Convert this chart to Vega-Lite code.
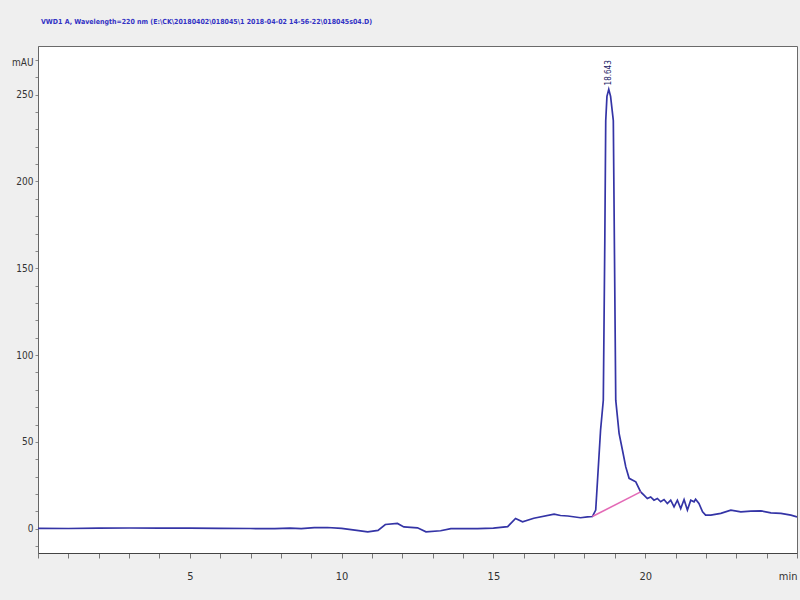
{
  "$schema": "https://vega.github.io/schema/vega-lite/v6.json",
  "autosize": {"type": "none"},
  "width": 759,
  "height": 507,
  "padding": {"left": 38, "top": 46, "right": 3, "bottom": 47},
  "background": "#efefef",
  "view": {"fill": "#ffffff", "stroke": "#6a6a6a", "strokeWidth": 1},
  "config": {
    "font": "DejaVu Sans Condensed, Liberation Sans Narrow, Liberation Sans, sans-serif",
    "axis": {"labelOverlap": false, "labelBound": false, "labelFlush": false}
  },
  "title": {
    "text": "VWD1 A, Wavelength=220 nm (E:\\CK\\20180402\\018045\\1 2018-04-02 14-56-22\\018045s04.D)",
    "anchor": "start",
    "frame": "group",
    "offset": 21,
    "dx": 3,
    "fontSize": 7,
    "fontWeight": "bold",
    "color": "#3232c4",
    "font": "DejaVu Sans Condensed, Liberation Sans Narrow, Liberation Sans, sans-serif"
  },
  "datasets": {
    "sig": [
      {"t": 0.0, "v": 0.2}, {"t": 1.0, "v": 0.1}, {"t": 2.0, "v": 0.3}, {"t": 3.0, "v": 0.4},
      {"t": 4.0, "v": 0.3}, {"t": 5.0, "v": 0.3}, {"t": 6.0, "v": 0.2}, {"t": 7.0, "v": 0.1},
      {"t": 7.8, "v": 0.0}, {"t": 8.3, "v": 0.3}, {"t": 8.67, "v": 0.0}, {"t": 9.1, "v": 0.6},
      {"t": 9.53, "v": 0.7}, {"t": 10.0, "v": 0.2}, {"t": 10.5, "v": -1.0}, {"t": 10.86, "v": -1.8},
      {"t": 11.2, "v": -1.0}, {"t": 11.44, "v": 2.4}, {"t": 11.84, "v": 3.0}, {"t": 12.05, "v": 1.0},
      {"t": 12.5, "v": 0.5}, {"t": 12.78, "v": -1.8}, {"t": 13.26, "v": -1.2}, {"t": 13.6, "v": 0.0},
      {"t": 14.48, "v": 0.0}, {"t": 15.0, "v": 0.3}, {"t": 15.47, "v": 1.2}, {"t": 15.73, "v": 5.9},
      {"t": 15.96, "v": 4.0}, {"t": 16.33, "v": 6.0}, {"t": 17.0, "v": 8.4}, {"t": 17.21, "v": 7.6},
      {"t": 17.45, "v": 7.3}, {"t": 17.87, "v": 6.3}, {"t": 18.1, "v": 6.8}, {"t": 18.26, "v": 7.0},
      {"t": 18.37, "v": 10.7}, {"t": 18.53, "v": 56.8}, {"t": 18.62, "v": 74.0}, {"t": 18.67, "v": 166.0},
      {"t": 18.7, "v": 235.0}, {"t": 18.74, "v": 249.0}, {"t": 18.8, "v": 253.0}, {"t": 18.86, "v": 249.0},
      {"t": 18.95, "v": 235.0}, {"t": 19.03, "v": 74.0}, {"t": 19.14, "v": 54.9}, {"t": 19.25, "v": 45.3},
      {"t": 19.36, "v": 35.6}, {"t": 19.47, "v": 29.0}, {"t": 19.69, "v": 27.0}, {"t": 19.85, "v": 21.2},
      {"t": 19.96, "v": 19.3}, {"t": 20.07, "v": 17.4}, {"t": 20.18, "v": 18.3}, {"t": 20.29, "v": 16.4},
      {"t": 20.4, "v": 17.4}, {"t": 20.51, "v": 15.5}, {"t": 20.62, "v": 16.8}, {"t": 20.73, "v": 14.5},
      {"t": 20.84, "v": 16.4}, {"t": 20.95, "v": 12.6}, {"t": 21.06, "v": 16.4}, {"t": 21.17, "v": 11.6},
      {"t": 21.28, "v": 16.8}, {"t": 21.39, "v": 10.7}, {"t": 21.5, "v": 16.4}, {"t": 21.61, "v": 15.5},
      {"t": 21.66, "v": 17.0}, {"t": 21.77, "v": 14.5}, {"t": 21.89, "v": 9.7}, {"t": 21.99, "v": 7.8},
      {"t": 22.16, "v": 7.8}, {"t": 22.49, "v": 8.8}, {"t": 22.82, "v": 10.7}, {"t": 23.15, "v": 9.7},
      {"t": 23.48, "v": 10.1}, {"t": 23.81, "v": 10.3}, {"t": 24.14, "v": 9.1}, {"t": 24.47, "v": 8.8},
      {"t": 24.8, "v": 7.8}, {"t": 25.0, "v": 6.8}
    ],
    "base": [
      {"t": 18.26, "v": 7.0}, {"t": 19.85, "v": 21.2}
    ],
    "lab": [
      {"t": 18.8, "v": 253.0, "txt": "18.643"}
    ]
  },
  "layer": [
    {
      "data": {"name": "sig"},
      "mark": {"type": "line", "color": "#3434a6", "strokeWidth": 1.7, "clip": true},
      "encoding": {
        "x": {
          "field": "t", "type": "quantitative",
          "scale": {"domain": [0, 25], "nice": false, "zero": false},
          "axis": {
            "title": null,
            "tickCount": 200,
            "format": "d",
            "values": [0,1,2,3,4,5,6,7,8,9,10,11,12,13,14,15,16,17,18,19,20,21,22,23,24,25],
            "labelExpr": "datum.value == 25 ? 'min' : (datum.value > 0 && datum.value % 5 == 0 ? datum.label : '')",
            "labelAlign": {"condition": {"test": "datum.value == 25", "value": "right"}, "value": "center"},
            "grid": false,
            "tickSize": 5,
            "tickColor": "#777777",
            "domainColor": "#444444",
            "labelPadding": 12,
            "labelFontSize": 11,
            "labelColor": "#333333",
            "labelFlush": false,
            "labelOverlap": false
          }
        },
        "y": {
          "field": "v", "type": "quantitative",
          "scale": {"domain": [-14, 278], "nice": false, "zero": false},
          "axis": {
            "title": "mAU",
            "titleAngle": 0,
            "titleAlign": "right",
            "titleBaseline": "middle",
            "titleX": -5,
            "titleY": 16,
            "titleFontSize": 10,
            "titleFontWeight": "normal",
            "titleColor": "#333333",
            "tickCount": 200,
            "format": "d",
            "values": [-10,0,10,20,30,40,50,60,70,80,90,100,110,120,130,140,150,160,170,180,190,200,210,220,230,240,250,260,270],
            "labelExpr": "datum.value % 50 == 0 ? datum.label : ''",
            "grid": false,
            "tickSize": 3,
            "tickColor": "#888888",
            "domainColor": "#666666",
            "labelPadding": 2,
            "labelFontSize": 10,
            "labelColor": "#333333",
            "labelOverlap": false
          }
        }
      }
    },
    {
      "data": {"name": "base"},
      "mark": {"type": "line", "color": "#e36ab6", "strokeWidth": 1.6},
      "encoding": {
        "x": {"field": "t", "type": "quantitative"},
        "y": {"field": "v", "type": "quantitative"}
      }
    },
    {
      "data": {"name": "lab"},
      "mark": {"type": "text", "angle": 270, "align": "left", "baseline": "middle", "dx": 4, "fontSize": 8, "color": "#222266"},
      "encoding": {
        "x": {"field": "t", "type": "quantitative"},
        "y": {"field": "v", "type": "quantitative"},
        "text": {"field": "txt"}
      }
    }
  ]
}
